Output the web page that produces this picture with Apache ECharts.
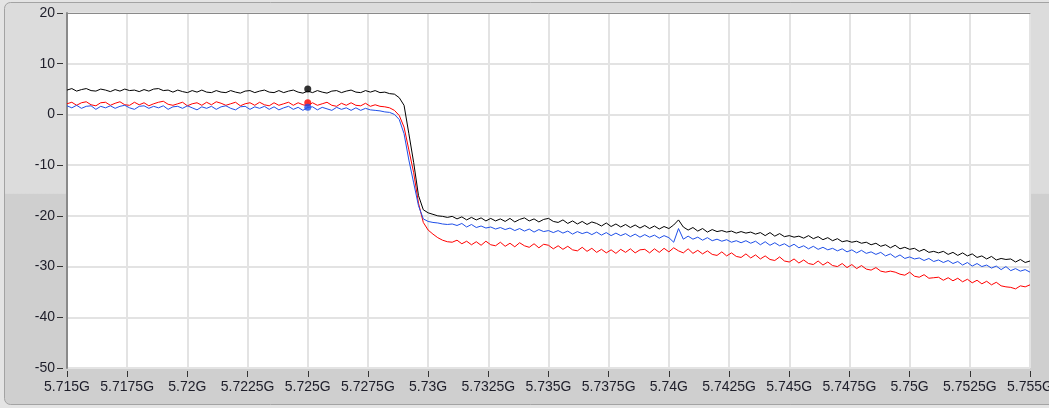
<!DOCTYPE html>
<html><head><meta charset="utf-8">
<script src="https://cdn.jsdelivr.net/npm/echarts@6/dist/echarts.min.js"></script>
<style>html,body{margin:0;padding:0;background:#e4e4e4;overflow:hidden}#c{width:1049px;height:408px}</style>
</head><body><div id="c"></div>
<script>
// Axis ticks (frequency in MHz, shown as GHz labels)
const xTickMin = 5715, xTickMax = 5755, xTickStep = 2.5;
const yTickMin = -50, yTickMax = 20, yTickStep = 10;
// Sample grid of the traces (MHz)
const freqStartMHz = 5715, freqStepMHz = 0.2;

const blackTrace = [
 4.8, 5.1, 4.6, 4.9, 5.1, 4.7, 4.6, 5.0, 4.8, 4.5,
 4.9, 4.6, 5.0, 4.7, 4.8, 4.5, 4.9, 4.6, 5.0, 5.1,
 4.7, 4.8, 4.4, 4.8, 4.5, 4.3, 4.7, 4.4, 4.8, 4.4,
 4.3, 4.7, 4.4, 4.3, 4.7, 4.4, 4.2, 4.6, 4.7, 4.3,
 4.6, 4.8, 4.4, 4.3, 4.7, 4.3, 4.6, 4.8, 4.4, 4.2,
 4.6, 4.3, 4.7, 4.4, 4.2, 4.6, 4.7, 4.3, 4.6, 4.8,
 4.4, 4.3, 4.7, 4.4, 4.7, 4.3, 4.4, 4.1, 4.0, 3.3,
 1.8, -3.8, -9.5, -16.0, -18.8, -19.4, -19.7, -20.0, -20.1, -20.3,
 -20.1, -20.6, -20.2, -20.8, -20.3, -20.8, -20.4, -21.0, -20.5, -21.0,
 -20.6, -21.1, -20.5, -21.2, -20.7, -20.4, -21.0, -20.6, -21.2, -20.7,
 -20.5, -21.1, -21.3, -20.8, -21.5, -21.0, -21.6, -21.1, -21.7, -21.2,
 -21.5, -22.0, -21.4, -22.1, -21.6, -22.2, -21.7, -22.3, -21.8, -22.4,
 -21.9, -22.5, -22.0, -22.6, -22.1, -22.5, -21.8, -20.8, -22.2, -22.8,
 -22.3, -23.0, -22.5, -23.2, -22.7, -23.1, -22.9, -23.2, -23.0, -23.4,
 -23.1, -23.4, -23.2, -23.6, -23.3, -23.9, -23.3, -24.0, -23.5, -24.1,
 -23.9, -24.2, -24.0, -24.4, -23.9, -24.5, -24.1, -24.7, -24.3, -24.9,
 -24.5, -25.1, -24.9, -25.2, -25.0, -25.4, -25.2, -25.7, -25.4, -26.0,
 -25.7, -26.3, -25.8, -26.5, -26.2, -26.6, -26.4, -27.0, -26.6, -27.2,
 -27.0, -27.3, -27.0, -27.6, -27.2, -27.8, -27.3, -27.9, -27.5, -28.2,
 -27.9, -28.5, -28.0, -28.7, -28.4, -28.6, -28.5, -29.1, -28.6, -29.2,
 -28.9
];
const blueTrace = [
 1.7, 1.3, 1.8, 1.2, 1.6, 1.7, 1.0, 1.6, 1.3, 1.7,
 1.2, 1.6, 1.8, 1.3, 1.0, 1.6, 1.7, 1.2, 1.6, 1.3,
 1.7, 1.0, 1.5, 1.6, 1.2, 1.7, 1.3, 0.9, 1.5, 1.2,
 1.6, 1.0, 1.5, 1.7, 1.2, 0.9, 1.5, 1.6, 1.0, 1.5,
 1.2, 1.6, 1.0, 1.5, 0.9, 1.3, 1.6, 1.0, 1.4, 0.8,
 1.4, 1.5, 0.9, 1.4, 1.1, 0.8, 1.4, 1.0, 1.3, 0.8,
 1.3, 0.8, 1.2, 0.9, 0.8, 0.7, 0.5, 0.4, 0.0, -1.0,
 -3.8, -9.0, -13.5, -18.0, -20.6, -21.1, -21.3, -21.4, -21.6, -21.7,
 -21.6, -21.9, -21.5, -22.2, -21.7, -22.3, -22.0, -22.4, -22.2, -22.6,
 -22.3, -22.7, -22.4, -22.9, -22.5, -23.0, -22.6, -23.2, -22.7, -23.1,
 -22.9, -23.3, -22.9, -23.4, -23.0, -23.6, -23.1, -23.5, -23.2, -23.7,
 -23.2, -23.8, -23.3, -23.9, -23.4, -23.9, -23.5, -24.1, -23.6, -24.2,
 -23.7, -24.2, -23.8, -24.4, -23.9, -24.3, -25.2, -22.5, -24.6, -24.0,
 -24.6, -24.2, -24.8, -24.3, -24.9, -24.6, -25.0, -24.7, -25.2, -24.9,
 -25.3, -24.9, -25.4, -25.0, -25.7, -25.1, -25.8, -25.3, -25.9, -25.5,
 -26.1, -25.6, -26.3, -25.9, -26.5, -26.0, -26.6, -26.2, -26.7, -26.4,
 -26.9, -26.5, -27.1, -26.7, -27.3, -26.8, -27.4, -27.1, -27.6, -27.2,
 -27.9, -27.5, -28.2, -27.7, -28.4, -28.1, -28.5, -28.3, -28.8, -28.4,
 -29.0, -28.7, -29.2, -28.8, -29.4, -29.0, -29.7, -29.2, -29.9, -29.4,
 -30.0, -29.7, -30.3, -29.9, -30.6, -30.0, -30.8, -30.4, -30.9, -30.6,
 -31.1
];
const redTrace = [
 2.1, 2.4, 1.8, 2.3, 2.5, 1.9, 1.7, 2.3, 2.4, 1.8,
 2.2, 2.5, 1.9, 1.8, 2.4, 1.9, 2.3, 1.7, 2.1, 2.4,
 2.6, 2.0, 1.8, 2.1, 2.4, 1.7, 2.1, 2.3, 1.8, 2.4,
 1.9, 2.5, 2.2, 1.8, 2.1, 2.4, 1.7, 2.1, 2.3, 1.8,
 2.4, 1.9, 1.7, 2.3, 1.8, 2.1, 2.4, 1.8, 2.3, 1.9,
 1.7, 2.3, 1.8, 2.1, 2.4, 1.8, 1.6, 2.2, 1.8, 2.3,
 1.8, 1.7, 2.2, 1.6, 1.9, 1.6, 1.5, 1.3, 0.8, -0.2,
 -2.5, -7.0, -11.5, -17.5, -21.3, -22.8, -23.6, -24.3, -24.8, -25.1,
 -25.2, -24.8, -25.5, -25.0, -25.7, -25.1, -25.8, -25.0, -25.7, -25.9,
 -25.2, -26.0, -25.4, -26.1, -25.3, -25.9, -26.2, -25.5, -26.3, -25.6,
 -25.8, -26.5, -25.9, -26.6, -26.0, -26.7, -26.9, -26.2, -27.0, -26.4,
 -27.2, -26.6, -27.3, -26.7, -27.4, -26.6, -27.2, -26.5, -27.3, -26.7,
 -26.6, -27.3, -26.5, -27.2, -26.4, -27.1, -26.3, -26.9, -27.3, -26.5,
 -27.4, -26.8, -27.5, -26.9, -27.6, -27.8, -27.1, -27.9, -27.3, -28.0,
 -28.2, -27.5, -28.3, -27.7, -28.5, -27.9, -28.6, -28.8, -28.1, -28.9,
 -29.1, -28.5, -29.3, -28.7, -29.4, -29.6, -28.9, -29.7, -29.1, -29.8,
 -30.0, -29.4, -30.2, -29.6, -30.4, -29.8, -30.5, -30.7, -30.2, -30.9,
 -31.1, -30.9, -31.1, -31.5, -31.7, -31.1, -31.9, -32.1, -31.6, -32.3,
 -32.2, -32.1, -32.7, -32.2, -32.8, -32.3, -33.0, -32.5, -33.2, -32.7,
 -33.4, -32.9, -33.6, -33.1, -33.8, -34.0, -34.1, -34.4, -33.8, -34.0,
 -33.6
];
// Cursor dots
const cursorFreqMHz = 5725;
const cursorBlack = 5.0, cursorRed = 2.3, cursorBlue = 1.4;

const toXY = arr => arr.map((v, i) => [freqStartMHz + i * freqStepMHz, v]);
const FONT = 'Liberation Sans';
const labelStyle = { color: '#1e1e2a', fontSize: 14, fontFamily: FONT };
const fmtX = v => (+(v / 1000).toFixed(4)) + 'G';

const chart = echarts.init(document.getElementById('c'), null, { renderer: 'canvas' });
chart.setOption({
  backgroundColor: '#e4e4e4',
  animation: false,
  graphic: [{
    type: 'rect', z: -10, silent: true,
    shape: { x: 4.5, y: 2.5, width: 1070, height: 402, r: 6 },
    style: {
      fill: new echarts.graphic.LinearGradient(0, 0, 0, 1, [
        { offset: 0, color: '#dcdcdc' }, { offset: 0.475, color: '#dcdcdc' },
        { offset: 0.476, color: '#cfcfcf' }, { offset: 1, color: '#cfcfcf' }
      ]),
      stroke: '#a3a3a3', lineWidth: 1
    }
  }],
  grid: { left: 67, right: 19, top: 13, bottom: 40, show: true, backgroundColor: '#ffffff', borderWidth: 0, outerBoundsMode: 'none', containLabel: false },
  xAxis: [{
    type: 'value', min: xTickMin, max: xTickMax, interval: xTickStep, position: 'bottom', offset: 3,
    axisLine: { show: false, onZero: false },
    axisTick: { show: true, length: 6, lineStyle: { color: '#333', width: 1 } },
    axisLabel: Object.assign({ margin: 9, formatter: fmtX, showMinLabel: true, showMaxLabel: true, hideOverlap: false }, labelStyle),
    splitLine: { show: true, lineStyle: { color: '#e3e3e3', width: 2 } }
  }, {
    type: 'value', min: xTickMin, max: xTickMax, interval: xTickStep, position: 'top',
    axisLine: { show: true, onZero: false, lineStyle: { color: '#8a8a8a', width: 1 } },
    axisTick: { show: false }, axisLabel: { show: false }, splitLine: { show: false }
  }],
  yAxis: [{
    type: 'value', min: yTickMin, max: yTickMax, interval: yTickStep, position: 'left',
    axisLine: { show: true, onZero: false, lineStyle: { color: '#8a8a8a', width: 2 } },
    axisTick: { show: false }, axisLabel: { show: false },
    splitLine: { show: true, lineStyle: { color: '#e3e3e3', width: 2 } }
  }, {
    type: 'value', min: yTickMin, max: yTickMax, interval: yTickStep, position: 'left', offset: 4,
    axisLine: { show: false, onZero: false },
    axisTick: { show: true, length: 6, lineStyle: { color: '#333', width: 1 } },
    axisLabel: Object.assign({ margin: 8 }, labelStyle),
    splitLine: { show: false }
  }],
  series: [
    { type: 'line', name: 'red', data: toXY(redTrace), symbol: 'none', lineStyle: { color: '#ff0000', width: 1 }, z: 2 },
    { type: 'line', name: 'blue', data: toXY(blueTrace), symbol: 'none', lineStyle: { color: '#1f4fe8', width: 1 }, z: 3 },
    { type: 'line', name: 'black', data: toXY(blackTrace), symbol: 'none', lineStyle: { color: '#000000', width: 1 }, z: 4 },
    { type: 'scatter', data: [[cursorFreqMHz, cursorBlack]], symbolSize: 7, itemStyle: { color: '#000' }, z: 5 },
    { type: 'scatter', data: [[cursorFreqMHz, cursorRed]], symbolSize: 7, itemStyle: { color: '#ff0000' }, z: 5 },
    { type: 'scatter', data: [[cursorFreqMHz, cursorBlue]], symbolSize: 7, itemStyle: { color: '#1f4fe8' }, z: 6 }
  ]
});
</script></body></html>
